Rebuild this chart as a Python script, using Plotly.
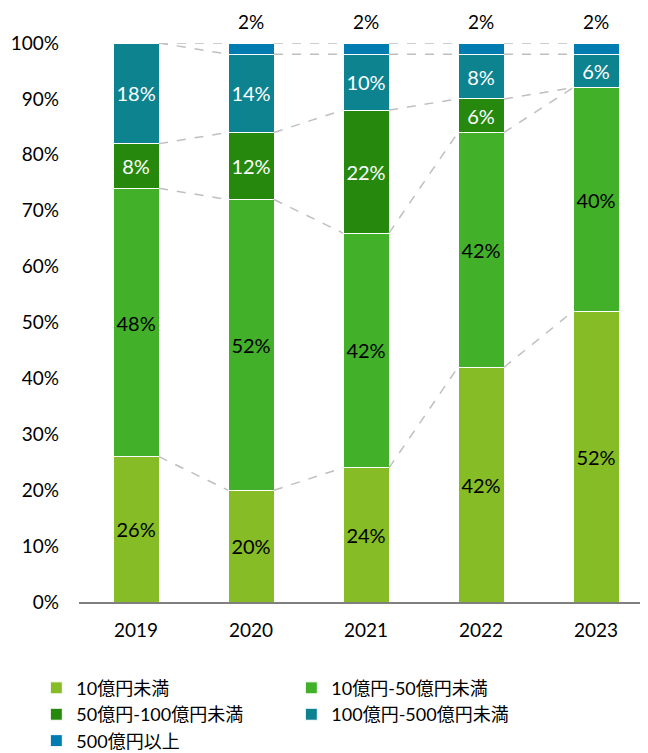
import plotly.graph_objects as go

# 売上規模別の構成比（%）
years = ["2019", "2020", "2021", "2022", "2023"]
series_names = ["10億円未満", "10億円-50億円未満", "50億円-100億円未満", "100億円-500億円未満", "500億円以上"]
under_10 = [26, 20, 24, 42, 52]
from_10_to_50 = [48, 52, 42, 42, 40]
from_50_to_100 = [8, 12, 22, 6, 0]
from_100_to_500 = [18, 14, 10, 8, 6]
over_500 = [0, 2, 2, 2, 2]

series_values = [under_10, from_10_to_50, from_50_to_100, from_100_to_500, over_500]
colors = ["#86BC25", "#43B02A", "#26890D", "#0D8390", "#007CB0"]
text_colors = ["black", "black", "white", "white", "black"]

bar_width = 0.4
xs = list(range(len(years)))
font_family = "Lato, 'Noto Sans CJK JP', sans-serif"

fig = go.Figure()

# dashed series lines joining the tops of each segment
cum = [0] * len(years)
for vals in series_values:
    cum = [c + v for c, v in zip(cum, vals)]
    lx, ly = [], []
    for i in range(len(years) - 1):
        lx += [i + bar_width / 2, i + 1 - bar_width / 2, None]
        ly += [cum[i], cum[i + 1], None]
    fig.add_trace(go.Scatter(
        x=lx, y=ly, mode="lines",
        line=dict(color="#BFBFBF", width=1.5, dash="dash"),
        showlegend=False, hoverinfo="skip"
    ))

for k, (name, vals) in enumerate(zip(series_names, series_values)):
    inside = k < 4
    fig.add_trace(go.Bar(
        x=xs, y=vals, name=name, width=bar_width,
        marker=dict(color=colors[k], line=dict(color="white", width=1)),
        text=[f"{v}%" if (v > 0 and inside) else "" for v in vals],
        textposition="inside", insidetextanchor="middle",
        textfont=dict(color=text_colors[k], size=20, family=font_family),
        cliponaxis=False
    ))

# labels for the top segment sit above the bars
for i, v in enumerate(over_500):
    if v > 0:
        fig.add_annotation(
            x=i, y=100, text=f"{v}%", showarrow=False,
            yanchor="bottom", yshift=8,
            font=dict(size=19, color="black", family=font_family)
        )

fig.update_layout(
    barmode="stack",
    width=640, height=745,
    paper_bgcolor="white", plot_bgcolor="white",
    font=dict(family=font_family, size=19, color="black"),
    margin=dict(l=71, r=0, t=35, b=151, autoexpand=False),
    showlegend=True,
    legend=dict(
        orientation="h", x=-0.075, y=-0.121, xanchor="left", yanchor="top",
        entrywidth=210, entrywidthmode="pixels", traceorder="normal",
        font=dict(size=18, family=font_family), itemwidth=30,
        tracegroupgap=0
    ),
    xaxis=dict(
        range=[-0.496, 4.452], tickvals=xs, ticktext=years,
        showline=True, linecolor="#7F7F7F", linewidth=2,
        ticks="", showgrid=False, zeroline=False,
        tickfont=dict(size=19), ticklabelstandoff=10
    ),
    yaxis=dict(
        range=[0, 100], tickvals=list(range(0, 101, 10)),
        ticktext=[f"{t}%" for t in range(0, 101, 10)],
        showgrid=False, zeroline=False, showline=False,
        tickfont=dict(size=19), ticklabelstandoff=19
    )
)

fig.write_html("out.html")
